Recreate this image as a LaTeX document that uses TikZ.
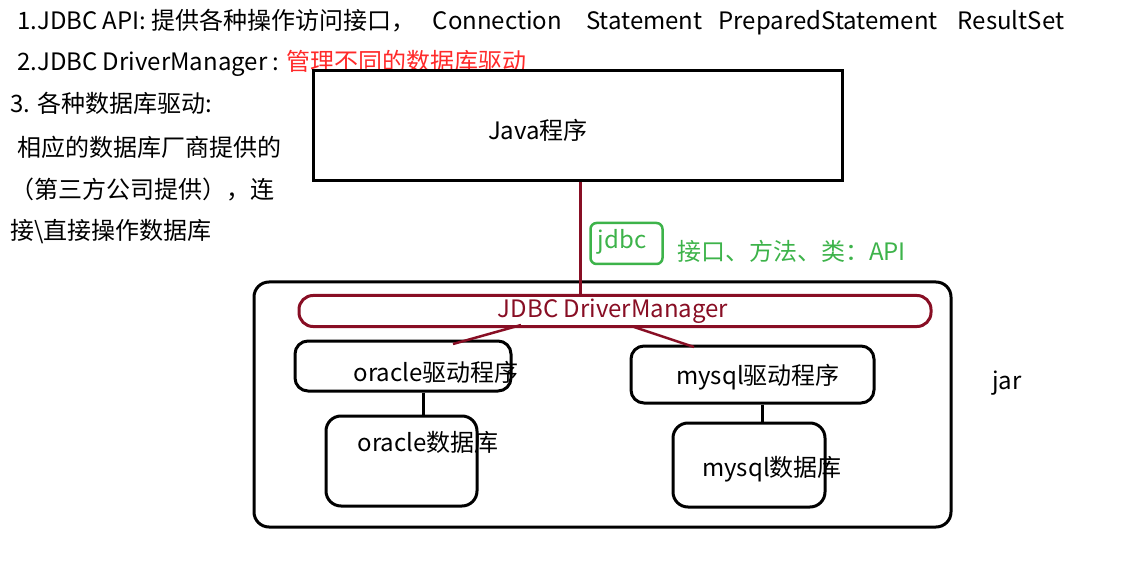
\documentclass[tikz,border=0pt]{standalone}
\usepackage{fontspec}
\setmainfont{Noto Sans CJK SC}
\definecolor{maroon}{HTML}{880E24}
\definecolor{gtxt}{HTML}{3DB34A}
\definecolor{rtxt}{HTML}{FF2A2A}
\begin{document}
\begin{tikzpicture}[x=1pt,y=-1pt,
  txt/.style={inner sep=0pt,anchor=base west,font=\fontsize{24}{28}\selectfont},
  ctxt/.style={inner sep=0pt,font=\fontsize{24}{28}\selectfont},
  blk/.style={draw=black,line width=3pt},
  mar/.style={draw=maroon,line width=3pt}]
\useasboundingbox (0,0) rectangle (1144,564);
% left texts
\node[txt] (t1) at (17,30) {1.JDBC API: 提供各种操作访问接口，\hspace{17pt}Connection\hspace{24pt}Statement\hspace{16pt}PreparedStatement\hspace{20pt}ResultSet};
\node[txt] (t2) at (17,71) {2.JDBC DriverManager : \textcolor{rtxt}{管理不同的数据库驱动}};
\node[txt] (t3) at (10,113) {3. 各种数据库驱动:};
\node[txt] (t4) at (17,157) {相应的数据库厂商提供的};
\node[txt] (t5) at (10,199) {（第三方公司提供），连};
\node[txt] (t6) at (10,240) {接\textbackslash 直接操作数据库};
% Java box
\node[blk,minimum width=529pt,minimum height=110pt,inner sep=0pt] (java) at (577.5,126) {};
\node[ctxt] (javat) at (538,130) {Java程序};
% outer jar box
\draw[blk,rounded corners=15pt] (254,282) rectangle (951,527);
\node[ctxt,anchor=west] (jar) at (992,383) {jar};
% jdbc green
\node[draw=gtxt,line width=2.5pt,rounded corners=6pt,minimum width=72pt,minimum height=41pt,inner sep=0pt] (jdbcbox) at (626.5,243.5) {};
\node[ctxt,text=gtxt] (jdbct) at (622,242) {jdbc};
\node[ctxt,text=gtxt,anchor=west] (api) at (677,251) {接口、方法、类：API};
% DriverManager
\node[mar,rounded corners=14pt,minimum width=632pt,minimum height=31pt,inner sep=0pt] (dm) at (615,311) {};
\node[ctxt,text=maroon] (dmt) at (613,311) {JDBC DriverManager};
\draw[mar] (java.south -| 580,0) -- (dm.north -| 580,0);
% oracle driver
\node[blk,rounded corners=13pt,minimum width=216pt,minimum height=50pt,inner sep=0pt] (od) at (403,366) {};
\node[ctxt] (odt) at (436,372) {oracle驱动程序};
% mysql driver
\node[blk,rounded corners=13pt,minimum width=243pt,minimum height=57pt,inner sep=0pt] (md) at (752.5,374.5) {};
\node[ctxt] (mdt) at (758,377) {mysql驱动程序};
% databases
\node[blk,rounded corners=15pt,minimum width=151pt,minimum height=90pt,inner sep=0pt] (odb) at (401.5,461) {};
\node[ctxt] (odbt) at (428,442) {oracle数据库};
\node[blk,rounded corners=15pt,minimum width=152pt,minimum height=84pt,inner sep=0pt] (mdb) at (749,465) {};
\node[ctxt] (mdbt) at (772,469) {mysql数据库};
% connectors
\coordinate (dl) at (521,325);
\coordinate (dr) at (634,327);
\coordinate (ol) at (453,344);
\coordinate (mr) at (694,347);
\draw[mar,line width=2.5pt] (dl) -- (ol);
\draw[mar,line width=2.5pt] (dr) -- (mr);
\draw[blk] (od.south -| 423,0) -- (odb.north -| 423,0);
\draw[blk] (md.south -| 762,0) -- (mdb.north -| 762,0);
\end{tikzpicture}
\end{document}
